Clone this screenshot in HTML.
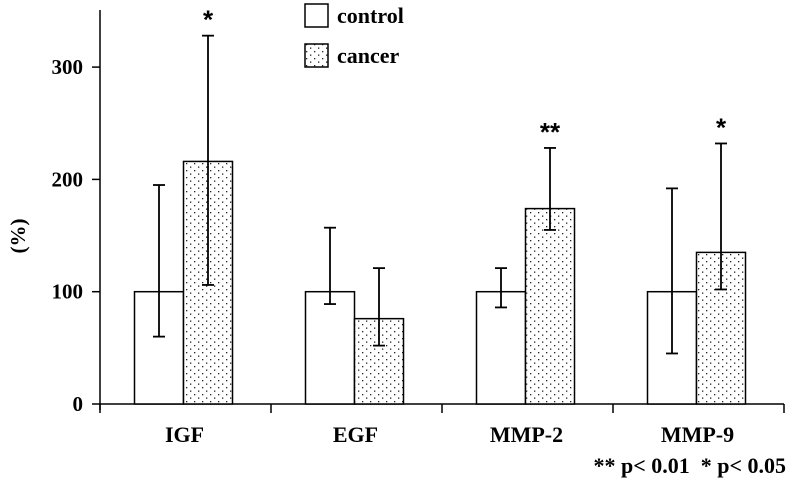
<!DOCTYPE html>
<html><head><meta charset="utf-8"><style>
html,body{margin:0;padding:0;background:#fff;}
svg{display:block;font-family:"Liberation Serif",serif;font-weight:bold;}
</style></head><body>
<svg id="chart" width="789" height="479" viewBox="0 0 789 479">
<defs>
<pattern id="dots" width="8" height="7" patternUnits="userSpaceOnUse">
<rect width="8" height="7" fill="#fff"/>
<rect x="2" y="2" width="1.3" height="1.3" fill="#222"/>
<rect x="6" y="5.5" width="1.3" height="1.3" fill="#222"/>
</pattern>
</defs>
<g id="axes"></g>
<g id="bars"></g>
<g>
<rect x="305" y="4" width="23" height="23" fill="#fff" stroke="#000" stroke-width="1.5"/>
<text x="337" y="23" font-size="22">control</text>
<rect x="305" y="44" width="23" height="23" fill="url(#dots)" stroke="#000" stroke-width="1.5"/>
<text x="337" y="63" font-size="22">cancer</text>
</g>
<text transform="translate(25,236) rotate(-90)" text-anchor="middle" font-size="21">(%)</text>
<text x="786" y="473" text-anchor="end" font-size="22" xml:space="preserve">** p&lt; 0.01  * p&lt; 0.05</text>
</svg>
<script>
const categories = ["IGF","EGF","MMP-2","MMP-9"];
const controlValues = [100,100,100,100];
const controlLow = [60,89,86,45];
const controlHigh = [195,157,121,192];
const cancerValues = [216,76,174,135];
const cancerLow = [106,52,155,102];
const cancerHigh = [328,121,228,232];
const significance = ["*","","**","*"];
const yTicks = [0,100,200,300];

const NS="http://www.w3.org/2000/svg";
const x0=100, y0=404, catW=171, barW=49, ppu=1.123;
const ys=v=>y0-v*ppu;
const catStart=i=>x0+i*catW;
function mk(tag,attrs,parent,txt){const e=document.createElementNS(NS,tag);for(const k in attrs)e.setAttribute(k,attrs[k]);if(txt!==undefined)e.textContent=txt;parent.appendChild(e);return e;}
const axes=document.getElementById('axes'), bars=document.getElementById('bars');
const ya=mk('line',{x1:x0,y1:10,x2:x0,y2:y0+6,stroke:'#000','stroke-width':1.5},axes);


const xa=mk('line',{x1:x0,y1:y0,x2:x0+catW*categories.length,y2:y0,stroke:'#000','stroke-width':1.5},axes);


yTicks.forEach(t=>{
  const l=mk('line',{x1:x0-8,y1:ys(t),x2:x0,y2:ys(t),stroke:'#000','stroke-width':1.5},axes);
  
  
  const tx=mk('text',{x:x0-17,y:ys(t)+7,'text-anchor':'end','font-size':21},axes,String(t));
  
  
});
for(let i=0;i<=categories.length;i++){
  const l=mk('line',{x1:catStart(i),y1:y0,x2:catStart(i),y2:y0+9,stroke:'#000','stroke-width':1.5},axes);
  
  
}
function errBar(cx,lo,hi){
  const g=mk('g',{stroke:'#000','stroke-width':1.8},bars);
  
  
  mk('line',{x1:cx,y1:ys(lo),x2:cx,y2:ys(hi)},g);
  mk('line',{x1:cx-6,y1:ys(lo),x2:cx+6,y2:ys(lo)},g);
  mk('line',{x1:cx-6,y1:ys(hi),x2:cx+6,y2:ys(hi)},g);
}
categories.forEach((c,i)=>{
  const cx=catStart(i)+catW/2-1;
  const b1=mk('rect',{x:cx-barW-1,y:ys(controlValues[i]),width:barW,height:controlValues[i]*ppu,fill:'#fff',stroke:'#000','stroke-width':1.5},bars);
  
  
  const b2=mk('rect',{x:cx-1,y:ys(cancerValues[i]),width:barW,height:cancerValues[i]*ppu,fill:'url(#dots)',stroke:'#000','stroke-width':1.5},bars);
  
  
  errBar(cx-barW/2-1,controlLow[i],controlHigh[i]);
  errBar(cx+barW/2-1,cancerLow[i],cancerHigh[i]);
  if(significance[i]){
    const s=mk('text',{x:cx+barW/2-1,y:ys(cancerHigh[i])-7,'text-anchor':'middle','font-size':26,'font-family':'"Liberation Sans",sans-serif'},bars,significance[i]);
    
    
  }
  const t=mk('text',{x:cx,y:442,'text-anchor':'middle','font-size':22},bars,c);
  
  
});
</script>
</body></html>
